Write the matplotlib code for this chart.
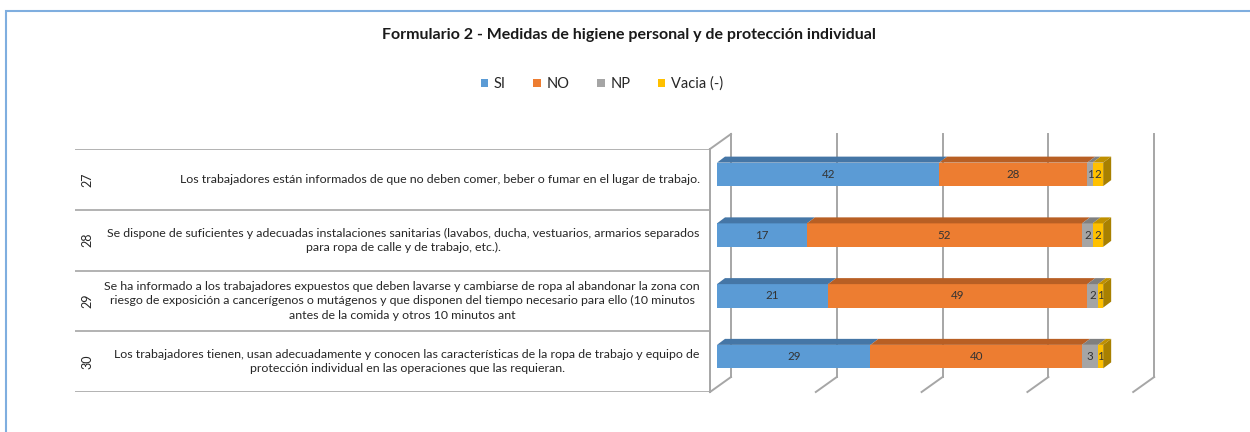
import matplotlib
matplotlib.use("Agg")
import matplotlib.pyplot as plt
from matplotlib.patches import Polygon, Rectangle, Patch
from matplotlib.lines import Line2D

plt.rcParams['font.family'] = ['Lato', 'DejaVu Sans']

# data
items = ["27", "28", "29", "30"]
questions = [
    "Los trabajadores están informados de que no deben comer, beber o fumar en el lugar de trabajo.",
    "Se dispone de suficientes y adecuadas instalaciones sanitarias (lavabos, ducha, vestuarios, armarios separados\npara ropa de calle y de trabajo, etc.).",
    "Se ha informado a los trabajadores expuestos que deben lavarse y cambiarse de ropa al abandonar la zona con\nriesgo de exposición a cancerígenos o mutágenos y que disponen del tiempo necesario para ello (10 minutos\nantes de la comida y otros 10 minutos ant",
    "Los trabajadores tienen, usan adecuadamente y conocen las características de la ropa de trabajo y equipo de\nprotección individual en las operaciones que las requieran.",
]
series = ["SI", "NO", "NP", "Vacia (-)"]
si = [42, 17, 21, 29]
no = [28, 52, 49, 40]
np_ = [1, 2, 2, 3]
vacia = [2, 2, 1, 1]
values = [si, no, np_, vacia]
x_ticks = [0, 20, 40, 60, 80]

front = ["#5B9BD5", "#ED7D31", "#A5A5A5", "#FFC000"]
dark = ["#4576A6", "#B85F24", "#7F7F7F", "#BF9000"]
side = ["#3F6A95", "#A35420", "#727272", "#A88000"]

W, H = 1250, 432
fig = plt.figure(figsize=(W / 100, H / 100), dpi=100)

def fx(px):
    return px / W

def fy(py):
    return 1 - py / H

# outer chart border
fig.patches.append(Rectangle((fx(6), -0.2), 1.2, fy(11) + 0.2, transform=fig.transFigure,
                             fill=False, edgecolor="#7FAEDF", lw=1.5))

fig.text(fx(629), fy(35), "Formulario 2 - Medidas de higiene personal y de protección individual",
         ha="center", va="center", fontsize=11.5, fontweight="bold", color="#1a1a1a")

# main plot area (front plane of bars)
ax = fig.add_axes([fx(717), fy(387), 423.2 / W, 243 / H])
ax.set_xlim(0, 80)
ax.set_ylim(3.5, -0.5)
ax.axis("off")
ax.patch.set_visible(False)

rows = list(range(len(items)))
bh = 0.387
BACK = (14, 10)
FLOOR = (-7, -5)
DEPTH = (8, 6)

def pt(x, y, off=(0, 0)):
    d = ax.transData.transform((x, y))
    return fig.transFigure.inverted().transform((d[0] + off[0], d[1] + off[1]))

def fline(p1, p2):
    fig.lines.append(Line2D([p1[0], p2[0]], [p1[1], p2[1]], transform=fig.transFigure,
                            color="#A6A6A6", lw=1.4, zorder=-1))

# walls / gridlines
for g in x_ticks:
    fline(pt(g, 3.5, BACK), pt(g, -0.5, BACK))
    fline(pt(g, 3.5, BACK), pt(g, 3.5, FLOOR))
fline(pt(0, -0.5, BACK), pt(0, -0.5, FLOOR))
fline(pt(0, -0.5, FLOOR), pt(0, 3.5, FLOOR))

# bars
lefts = [0] * len(rows)
for k, vals in enumerate(values):
    ax.barh(rows, vals, left=lefts, height=bh, color=front[k], edgecolor="none", label=series[k])
    for r in rows:
        l, w = lefts[r], vals[r]
        top = r - bh / 2
        bot = r + bh / 2
        poly = [pt(l, top), pt(l + w, top), pt(l + w, top, DEPTH), pt(l, top, DEPTH)]
        fig.patches.append(Polygon(poly, closed=True, transform=fig.transFigure,
                                   facecolor=dark[k], edgecolor="none", zorder=1))
        if k == len(values) - 1:
            sp = [pt(l + w, top), pt(l + w, bot), pt(l + w, bot, DEPTH), pt(l + w, top, DEPTH)]
            fig.patches.append(Polygon(sp, closed=True, transform=fig.transFigure,
                                       facecolor=side[k], edgecolor="none", zorder=1))
        ax.text(l + w / 2, r, str(w), ha="center", va="center", fontsize=8.3, color="#333333")
    lefts = [a + b for a, b in zip(lefts, vals)]

# category table on the left
tax = fig.add_axes([fx(75), fy(392), (710 - 75) / W, (392 - 149) / H])
tax.set_xlim(0, 1)
tax.set_ylim(3.5, -0.5)
tax.axis("off")
tax.hlines([r - 0.5 for r in rows] + [rows[-1] + 0.5], 0, 1, color="#A6A6A6", lw=1.2)
for r in rows:
    tax.text(0.019, r, items[r], rotation=90, ha="center", va="center", fontsize=9, color="#262626")
    tax.text(0.984, r, questions[r], ha="right", va="center", multialignment="center",
             fontsize=8.9, color="#262626", linespacing=1.35)

handles = [Patch(facecolor=c, edgecolor="none") for c in front]
fig.legend(handles, series, loc="center", bbox_to_anchor=(fx(602), fy(84)), ncol=4, frameon=False,
           handlelength=0.5, handleheight=0.5, handletextpad=0.4, columnspacing=1.9,
           fontsize=10.5, labelcolor="#262626")

fig.savefig("out.png", dpi=100)
